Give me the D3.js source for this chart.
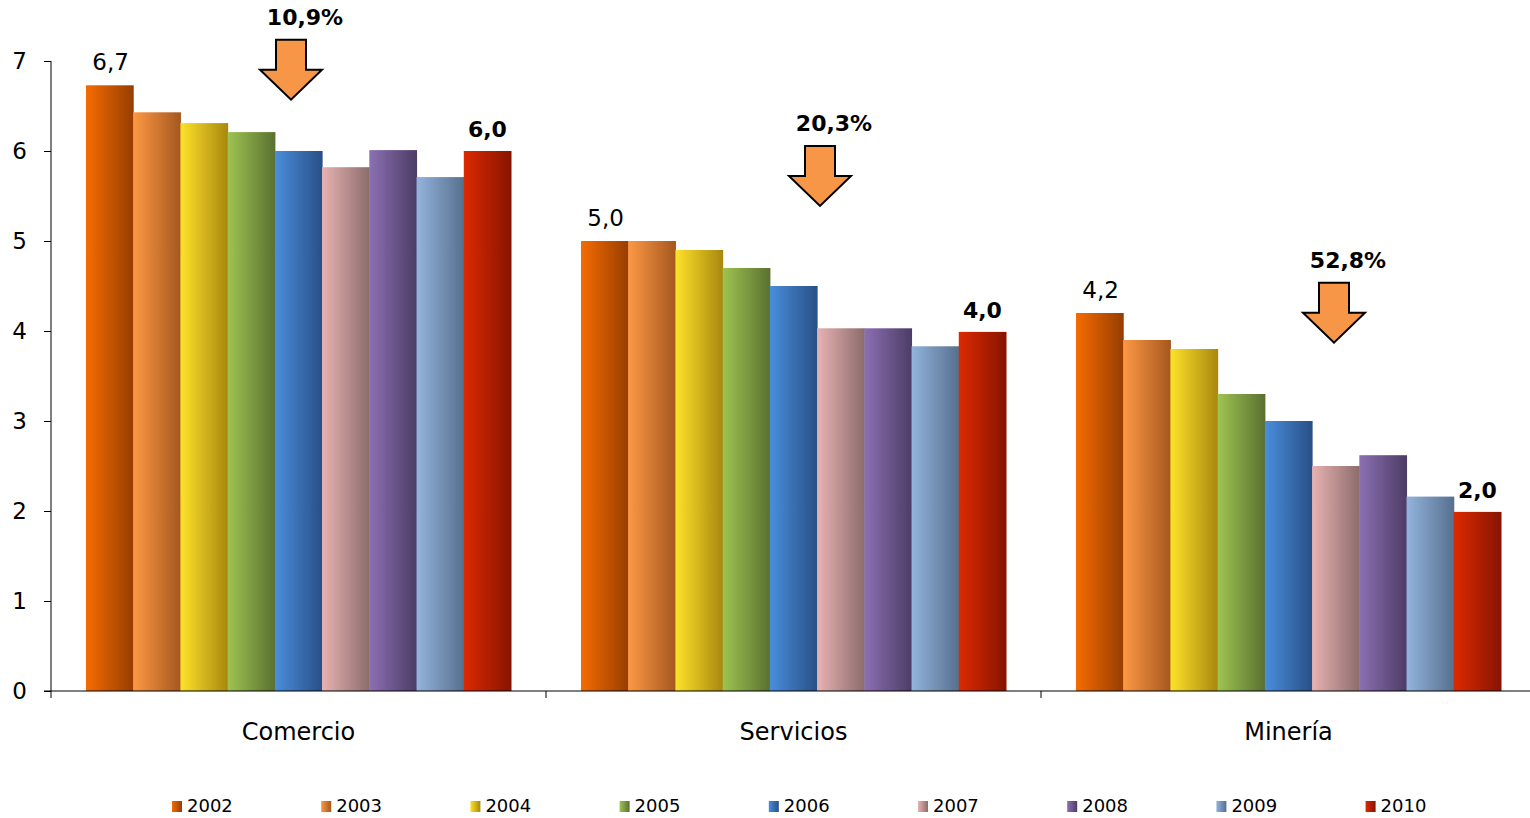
<!DOCTYPE html>
<html><head><meta charset="utf-8">
<script src="https://cdn.jsdelivr.net/npm/d3@7"></script>
<style>body{margin:0;background:#fff}svg{display:block}text{font-family:"DejaVu Sans",Verdana,sans-serif;fill:#000}</style>
</head><body><svg id="c" width="1530" height="818"></svg>
<script>
const categories = ["Comercio","Servicios","Minería"];
const years = ["2002","2003","2004","2005","2006","2007","2008","2009","2010"];
const comercio  = [6.73,6.43,6.31,6.21,6.0,5.82,6.01,5.71,6.0];
const servicios = [5.0,5.0,4.9,4.7,4.5,4.03,4.03,3.83,3.99];
const mineria   = [4.2,3.9,3.8,3.3,3.0,2.5,2.62,2.16,1.99];
const seriesByCat = [comercio, servicios, mineria];
const firstLabels = ["6,7","5,0","4,2"];
const lastLabels  = ["6,0","4,0","2,0"];
const dropPct = ["10,9%","20,3%","52,8%"];
const arrowTipValue = [6.57,5.39,3.87];
const arrowOffset = [240,274,293];
const yTicks = [0,1,2,3,4,5,6,7];
const colorsLight = ["#f56c00","#fd9844","#fde22a","#9ec452","#4a8edc","#e8b2b2","#8b70b2","#93b4dc","#dc2a00"];
const colorsDark  = ["#963d00","#a5571f","#a8870e","#5a7030","#284f86","#8c6c6c","#4c3c66","#566f8e","#861400"];

const svg = d3.select("#c");
const defs = svg.append("defs");
years.forEach((y,i)=>{
  const g = defs.append("linearGradient").attr("id","g"+i).attr("x1","0").attr("x2","1").attr("y1","0").attr("y2","0");
  g.append("stop").attr("offset","0").attr("stop-color",colorsLight[i]);
  g.append("stop").attr("offset","1").attr("stop-color",colorsDark[i]);
});

const x0 = d3.scaleBand().domain(categories).range([51,1536]).padding(0);
const x1 = d3.scaleBand().domain(years).range([35,460]).padding(0);
const y = d3.scaleLinear().domain([0,7]).range([691,61]);

// bars
categories.forEach((c,ci)=>{
  const g = svg.append("g").attr("transform",`translate(${x0(c)},0)`);
  g.selectAll("rect").data(seriesByCat[ci]).join("rect")
    .attr("x",(d,i)=>x1(years[i])).attr("width",x1.bandwidth()+0.5)
    .attr("y",d=>y(d)).attr("height",d=>y(0)-y(d))
    .attr("fill",(d,i)=>`url(#g${i})`);
  const v = seriesByCat[ci];
  g.append("text").attr("x",x1(years[0])+x1.bandwidth()/2+1).attr("y",y(v[0])-15)
    .attr("text-anchor","middle").style("font-size","23px").text(firstLabels[ci]);
  g.append("text").attr("x",x1(years[8])+x1.bandwidth()/2).attr("y",y(v[8])-14)
    .attr("text-anchor","middle").style("font-size","22px").style("font-weight","bold").text(lastLabels[ci]);
  // arrow
  const ax = arrowOffset[ci], tip = y(arrowTipValue[ci]);
  const top = tip-60, mid = tip-30;
  const pts = [[ax-15,top],[ax+15,top],[ax+15,mid],[ax+31,mid],[ax,tip],[ax-31,mid],[ax-15,mid]];
  g.append("path").attr("d","M"+pts.map(p=>p.join(",")).join("L")+"Z")
    .attr("fill","#f79646").attr("stroke","#000").attr("stroke-width",2).attr("stroke-linejoin","miter");
  g.append("text").attr("x",ax+14).attr("y",top-15).attr("text-anchor","middle")
    .style("font-size","22px").style("font-weight","bold").text(dropPct[ci]);
});

// y axis
const ya = svg.append("g").attr("transform","translate(51,0)")
  .call(d3.axisLeft(y).tickValues(yTicks).tickSize(7).tickPadding(17).tickFormat(d3.format("d")));
ya.select(".domain").attr("stroke","#000").attr("d","M0,61V691");
ya.selectAll(".tick line").attr("stroke","#000");
ya.selectAll(".tick text").style("font-size","23px").style("font-family","DejaVu Sans").attr("fill","#000");

// x axis
const xa = svg.append("g").attr("transform","translate(0,691)");
xa.append("line").attr("x1",44).attr("x2",1530).attr("stroke","#000");
xa.selectAll("line.t").data(categories).join("line").attr("class","t")
  .attr("x1",d=>x0(d)).attr("x2",d=>x0(d)).attr("y1",0).attr("y2",7).attr("stroke","#000");
xa.selectAll("text").data(categories).join("text")
  .attr("x",d=>x0(d)+x0.bandwidth()/2).attr("y",49).attr("text-anchor","middle")
  .style("font-size","24px").text(d=>d);

// legend
const lg = svg.append("g");
years.forEach((yr,i)=>{
  const lx = 172 + i*149.2;
  lg.append("rect").attr("x",lx).attr("y",801).attr("width",10).attr("height",11).attr("fill",`url(#g${i})`);
  lg.append("text").attr("x",lx+15).attr("y",812).style("font-size","18px").text(yr);
});
</script></body></html>
